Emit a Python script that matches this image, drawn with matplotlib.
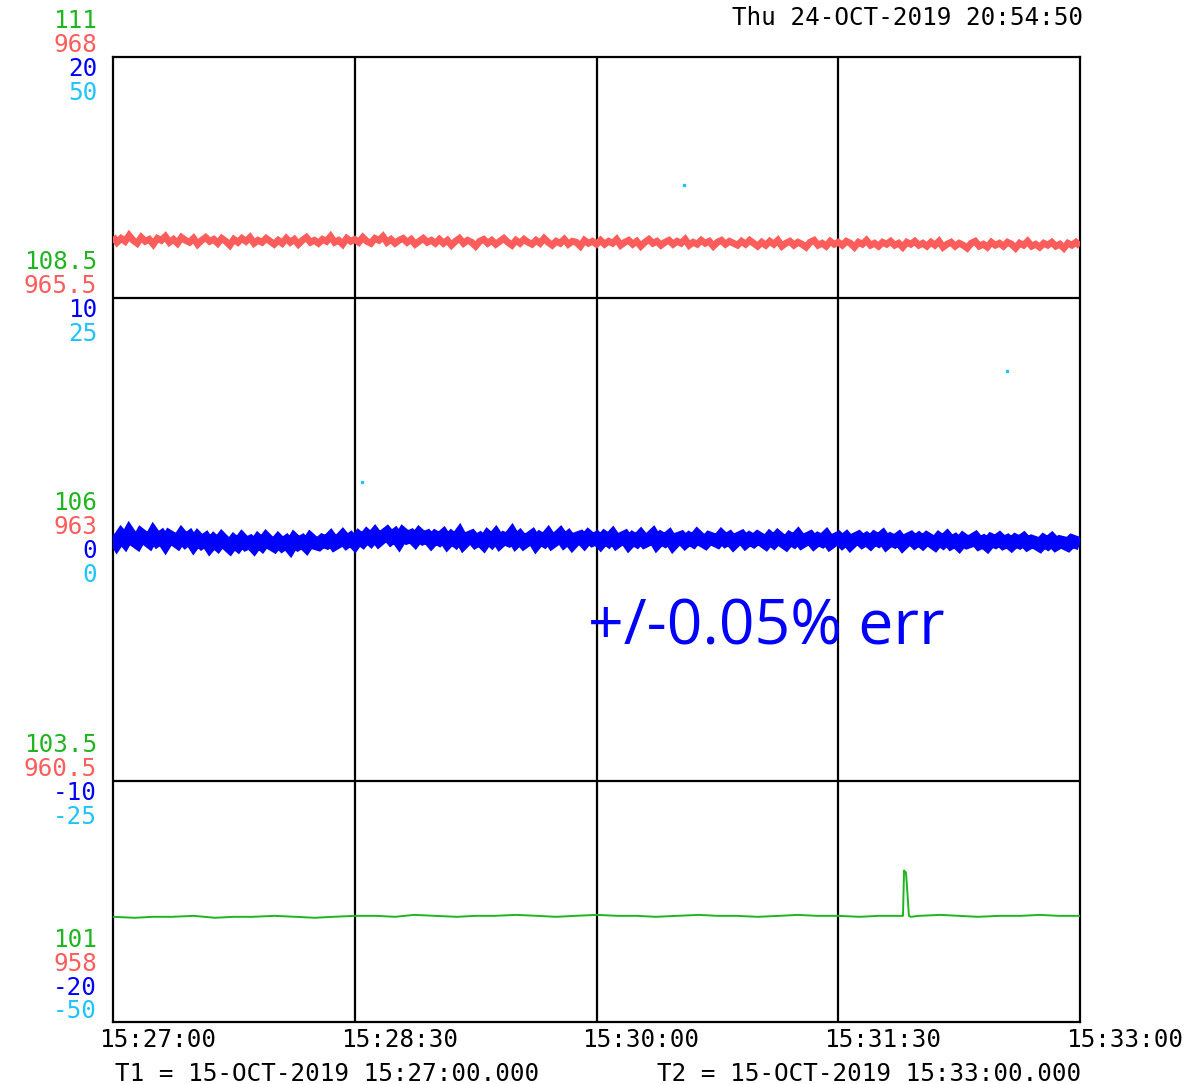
#!/usr/bin/env python3

import numpy as np
import matplotlib
matplotlib.use('Agg')

import matplotlib.pyplot as plt

# time axis runs 15:27:00 .. 15:33:00, in seconds from T1
x_ticks = [0, 90, 180, 270, 360]
x_tick_labels = ['15:27:00', '15:28:30', '15:30:00', '15:31:30', '15:33:00']

# channel scales (bottom, top)
green_range = (101, 111)
red_range = (958, 968)
blue_range = (-20, 20)
cyan_range = (-50, 50)

red_vals = [
    966.14, 966.08, 966.12, 966.09, 966.15, 966.10, 966.07, 966.13, 966.09, 966.11,
    966.06, 966.12, 966.10, 966.14, 966.08, 966.11, 966.07, 966.13, 966.10, 966.08,
    966.12, 966.06, 966.10, 966.13, 966.09, 966.11, 966.07, 966.12, 966.09, 966.05,
    966.11, 966.08, 966.12, 966.09, 966.13, 966.07, 966.10, 966.08, 966.12, 966.09, 966.06,
    966.10, 966.07, 966.12, 966.08, 966.11, 966.06, 966.10, 966.13, 966.08, 966.10,
    966.07, 966.11, 966.09, 966.14, 966.08, 966.10, 966.06, 966.12, 966.09, 966.11,
    966.08, 966.13, 966.09, 966.07, 966.12, 966.10, 966.14, 966.08, 966.11, 966.07,
    966.10, 966.12, 966.08, 966.11, 966.06, 966.09, 966.12, 966.08, 966.10, 966.07,
    966.11, 966.07, 966.10, 966.05, 966.09, 966.12, 966.07, 966.10, 966.08, 966.04,
    966.09, 966.11, 966.07, 966.10, 966.06, 966.09, 966.12, 966.08, 966.05, 966.10,
    966.07, 966.11, 966.08, 966.06, 966.10, 966.07, 966.12, 966.08, 966.05, 966.09,
    966.07, 966.11, 966.06, 966.09, 966.08, 966.04, 966.10, 966.07, 966.09, 966.06,
    966.10, 966.06, 966.09, 966.07, 966.11, 966.05, 966.08, 966.10, 966.06, 966.09,
    966.04, 966.08, 966.11, 966.07, 966.09, 966.05, 966.08, 966.10, 966.06, 966.09,
    966.07, 966.11, 966.05, 966.08, 966.06, 966.10, 966.07, 966.09, 966.04, 966.08,
    966.10, 966.06, 966.09, 966.07, 966.05, 966.09, 966.06, 966.10, 966.07, 966.04,
    966.08, 966.05, 966.09, 966.06, 966.10, 966.04, 966.07, 966.09, 966.05, 966.08,
    966.06, 966.03, 966.08, 966.10, 966.05, 966.07, 966.04, 966.09, 966.06, 966.08,
    966.05, 966.09, 966.07, 966.03, 966.08, 966.06, 966.10, 966.05, 966.07, 966.04,
    966.08, 966.06, 966.09, 966.05, 966.07, 966.03, 966.08, 966.06, 966.09, 966.05,
    966.07, 966.04, 966.08, 966.05, 966.09, 966.03, 966.06, 966.08, 966.04, 966.07,
    966.05, 966.02, 966.07, 966.09, 966.04, 966.06, 966.03, 966.08, 966.05, 966.07,
    966.04, 966.08, 966.06, 966.02, 966.07, 966.05, 966.09, 966.04, 966.06, 966.03,
    966.07, 966.05, 966.08, 966.04, 966.06, 966.02, 966.07, 966.05, 966.08, 966.04,
]

blue_vals = [
    0.20, -0.10, 0.15, -0.05, 0.25, 0.00, -0.12, 0.18, 0.05, -0.08,
    0.22, -0.02, 0.10, -0.15, 0.12, 0.02, -0.10, 0.15, -0.05, 0.08,
    -0.18, 0.05, -0.12, 0.00, -0.25, -0.05, -0.20, 0.02, -0.15, -0.30,
    -0.08, -0.22, 0.00, -0.18, -0.10, -0.28, -0.05, -0.20, 0.02, -0.15, -0.25,
    -0.05, -0.22, -0.10, -0.30, -0.02, -0.18, -0.08, -0.25, 0.00, -0.15,
    -0.20, -0.05, -0.12, 0.05, -0.18, -0.08, 0.10, -0.10, 0.02, -0.15,
    0.08, -0.05, 0.15, 0.00, 0.20, -0.02, 0.12, 0.25, 0.05, 0.18,
    -0.05, 0.22, 0.08, 0.15, -0.02, 0.20, 0.05, 0.12, -0.08, 0.10,
    0.00, 0.15, -0.10, 0.08, -0.05, 0.18, -0.12, 0.05, 0.12, -0.08,
    0.02, -0.15, 0.10, -0.05, 0.15, -0.10, 0.05, -0.02, 0.20, -0.08,
    0.08, -0.12, 0.00, 0.12, -0.15, 0.05, -0.05, 0.15, -0.10, 0.02,
    0.18, -0.06, 0.08, -0.14, 0.04, 0.10, -0.08, 0.12, -0.02, 0.06,
    -0.12, 0.08, -0.04, 0.14, -0.10, 0.02, 0.10, -0.14, 0.04, -0.06,
    0.12, -0.08, 0.00, 0.16, -0.12, 0.06, -0.04, 0.10, -0.16, 0.02,
    0.08, -0.10, 0.04, -0.06, 0.14, -0.02, -0.12, 0.06, 0.00, -0.08,
    0.12, -0.04, 0.06, -0.14, 0.02, 0.10, -0.10, 0.04, -0.06, 0.08,
    -0.02, -0.14, 0.06, -0.08, 0.10, -0.04, -0.16, 0.04, -0.06, 0.12,
    -0.10, 0.00, 0.08, -0.12, 0.02, -0.06, 0.10, -0.14, -0.02, 0.06,
    -0.10, 0.04, -0.16, 0.00, 0.08, -0.08, 0.02, -0.12, 0.06, -0.04,
    0.10, -0.14, 0.00, -0.08, 0.04, -0.18, -0.02, 0.06, -0.10, 0.02,
    -0.12, 0.04, -0.06, -0.18, 0.02, -0.10, 0.06, -0.14, -0.04, -0.20,
    0.00, -0.12, -0.06, 0.04, -0.16, -0.08, -0.22, -0.02, -0.10, 0.02,
    -0.14, -0.06, -0.20, -0.04, -0.12, 0.00, -0.18, -0.08, -0.14, -0.24,
    -0.06, -0.16, -0.02, -0.20, -0.10, -0.14, -0.22, -0.06, -0.12, -0.18,
]

green_t = [0, 8, 15, 22, 30, 38, 45, 52, 60, 68, 75, 82, 90, 98, 105, 112, 120,
           128, 135, 142, 150, 158, 165, 172, 180, 188, 195, 202, 210, 218, 225,
           232, 240, 248, 255, 262, 270, 278, 285, 290, 294.1, 294.5, 295.2,
           295.6, 296.3, 297, 300, 308, 315, 322, 330, 338, 345, 352, 360]
green_vals = [102.09, 102.08, 102.09, 102.09, 102.10, 102.08, 102.09, 102.09,
              102.10, 102.09, 102.08, 102.09, 102.10, 102.10, 102.09, 102.11,
              102.10, 102.09, 102.10, 102.10, 102.11, 102.10, 102.09, 102.10,
              102.11, 102.10, 102.10, 102.09, 102.10, 102.11, 102.10, 102.10,
              102.09, 102.10, 102.11, 102.10, 102.10, 102.09, 102.10, 102.10,
              102.10, 102.57, 102.55, 102.40, 102.10, 102.09, 102.10, 102.11,
              102.10, 102.09, 102.10, 102.10, 102.11, 102.10, 102.10]

cyan_t = [92.7, 212.6, 332.8]
cyan_vals = [5.96, 36.7, 17.5]

GREEN = '#1fb51f'
RED = '#ff5c5c'
BLUE = '#0000ff'
CYAN = '#1ec3ff'
MONO = 'DejaVu Sans Mono'
FS = 17.5


def main():
    fig = plt.figure(figsize=(11.87, 10.84), dpi=100)
    ax = fig.add_axes([113 / 1187, 1 - 1022 / 1084, 967 / 1187, 965 / 1084])
    ax.set_xlim(0, 360)
    ax.set_ylim(*green_range)
    ax.set_xticks([])
    ax.set_yticks([])
    for s in ax.spines.values():
        s.set_linewidth(1.6)

    for t in x_ticks[1:-1]:
        ax.axvline(t, color='black', lw=1.6, zorder=1)
    for f in [0.25, 0.5, 0.75]:
        ax.axhline(green_range[0] + f * (green_range[1] - green_range[0]),
                   color='black', lw=1.6, zorder=1)

    ax.plot(green_t, green_vals, color=GREEN, lw=1.4, zorder=3)

    band = dict(solid_joinstyle='miter', solid_capstyle='butt')

    ax_red = ax.twinx()
    ax_red.set_ylim(*red_range)
    ax_red.plot(np.linspace(0, 360, len(red_vals)), red_vals, color=RED, lw=5, **band)
    ax_red.axis('off')

    ax_blue = ax.twinx()
    ax_blue.set_ylim(*blue_range)
    ax_blue.plot(np.linspace(0, 360, len(blue_vals)), blue_vals, color=BLUE, lw=9.5, **band)
    ax_blue.axis('off')

    ax_cyan = ax.twinx()
    ax_cyan.set_ylim(*cyan_range)
    ax_cyan.plot(cyan_t, cyan_vals, ls='none', marker='s', ms=2, color=CYAN)
    ax_cyan.axis('off')

    # stacked y labels, one line per channel
    scales = [(green_range, GREEN), (red_range, RED), (blue_range, BLUE), (cyan_range, CYAN)]
    for f in [1, 0.75, 0.5, 0.25, 0]:
        offs = [-36, -12, 12, 36] if f > 0 else [-82, -58, -34, -11]
        for (rng, col), off in zip(scales, offs):
            v = rng[0] + f * (rng[1] - rng[0])
            ax.annotate('%g' % v, xy=(0, f), xycoords='axes fraction',
                        xytext=(-16, -off), textcoords='offset pixels',
                        ha='right', va='center', color=col,
                        fontsize=FS, family=MONO, annotation_clip=False)

    for t, lab in zip(x_ticks, x_tick_labels):
        ax.annotate(lab, xy=(t, 0), xycoords=('data', 'axes fraction'),
                    xytext=(-14, -18), textcoords='offset pixels',
                    ha='left', va='center', fontsize=FS, family=MONO,
                    annotation_clip=False)

    fig.text(115 / 1187, 1 - 1074 / 1084, 'T1 = 15-OCT-2019 15:27:00.000',
             ha='left', va='center', fontsize=FS, family=MONO)
    fig.text(657 / 1187, 1 - 1074 / 1084, 'T2 = 15-OCT-2019 15:33:00.000',
             ha='left', va='center', fontsize=FS, family=MONO)
    fig.text(1083 / 1187, 1 - 18 / 1084, 'Thu 24-OCT-2019 20:54:50',
             ha='right', va='center', fontsize=FS, family=MONO)

    fig.text(588 / 1187, 1 - 628 / 1084, '+/-0.05% err', color=BLUE,
             ha='left', va='center', fontsize=45, family='Open Sans')

    plt.savefig('out.png', dpi=100)


if __name__ == "__main__":
    main()
